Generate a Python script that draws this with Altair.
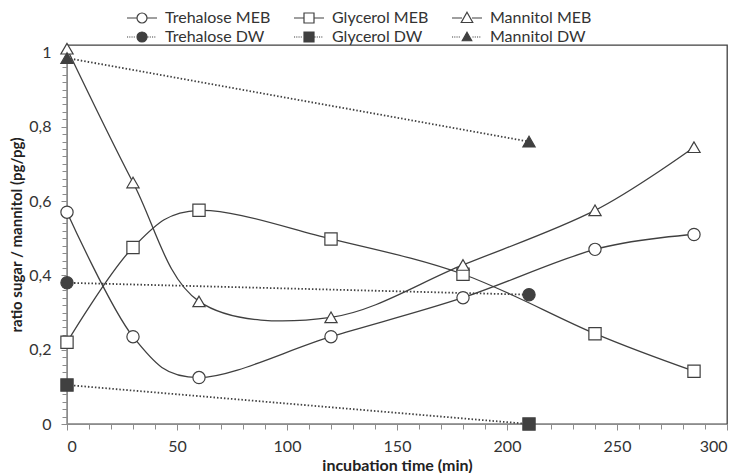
import altair as alt
import pandas as pd

# ---------------- data ----------------
series_names = ["Trehalose MEB", "Glycerol MEB", "Mannitol MEB",
                "Trehalose DW", "Glycerol DW", "Mannitol DW"]

times_meb = [0, 30, 60, 120, 180, 240, 285]
trehalose_meb = [0.57, 0.235, 0.125, 0.235, 0.340, 0.470, 0.510]
glycerol_meb = [0.22, 0.475, 0.575, 0.498, 0.403, 0.243, 0.142]
mannitol_meb = [1.01, 0.65, 0.33, 0.287, 0.428, 0.575, 0.745]

times_dw = [0, 210]
trehalose_dw = [0.38, 0.348]
glycerol_dw = [0.105, 0.0]
mannitol_dw = [0.985, 0.76]

x_ticks = [0, 50, 100, 150, 200, 250, 300]
y_ticks = [0, 0.2, 0.4, 0.6, 0.8, 1.0]

rows = []
for name, vals in zip(series_names[:3], [trehalose_meb, glycerol_meb, mannitol_meb]):
    for t, v in zip(times_meb, vals):
        rows.append({"series": name, "kind": "MEB", "time": t, "value": v})
for name, vals in zip(series_names[3:], [trehalose_dw, glycerol_dw, mannitol_dw]):
    for t, v in zip(times_dw, vals):
        rows.append({"series": name, "kind": "DW", "time": t, "value": v})
df = pd.DataFrame(rows)

# ---------------- styling ----------------
DARK = "#404040"
AXC = "#8c8c8c"
FONT = "Lato"


def dotted(a, b, dot=0.22, step=0.45):
    parts = []
    x = a
    while x + dot <= b + 1e-9:
        parts.append(f"M{x:.2f},0L{x + dot:.2f},0")
        x += step
    return "".join(parts)


solid_l = "M-3,0L-1,0M1,0L3,0"
dot_l = dotted(-3.0, -1.05) + dotted(1.1, 3.0)
circle_p = "M-1,0A1,1 0 1,1 1,0A1,1 0 1,1 -1,0Z"
square_p = "M-1,-1L1,-1L1,1L-1,1Z"
tri_p = "M0,-1.15L1.15,0.9L-1.15,0.9Z"
tri_small = "M0,-0.95L0.95,0.75L-0.95,0.75Z"

legend_shapes = [solid_l + circle_p, solid_l + square_p, solid_l + tri_p,
                 dot_l + circle_p, dot_l + square_p, dot_l + tri_small]
legend_fills = ["white", "white", "white", DARK, DARK, DARK]
plot_shapes = ["circle", "square", "triangle-up", "circle", "square", "triangle-up"]

xs = alt.Scale(domain=[0, 300], nice=False, zero=False)
ys = alt.Scale(domain=[0, 1.02], nice=False, zero=False)

y_label_expr = ("datum.value == 0 ? '0' : datum.value == 1 ? '1' : "
                "replace(format(datum.value, '.1f'), '.', ',')")

x_main = alt.X("time:Q", scale=xs, title="incubation time (min)",
               axis=alt.Axis(values=x_ticks, orient="bottom", grid=False,
                             domainColor=AXC, tickColor=AXC,
                             tickSize=6, labelFontSize=16, labelPadding=8,
                             labelColor="#333", titleFontSize=16,
                             titleFontWeight="bold", titleColor="#222",
                             titlePadding=3, labelFont=FONT, titleFont=FONT))
y_main = alt.Y("value:Q", scale=ys, title="ratio sugar / mannitol  (pg/pg)",
               axis=alt.Axis(values=y_ticks, orient="left", grid=False,
                             labelExpr=y_label_expr,
                             domainColor=AXC, tickColor=AXC,
                             tickSize=6, labelFontSize=16, labelPadding=10,
                             labelColor="#333", titleFontSize=15,
                             titleFontWeight="bold", titleColor="#222",
                             titlePadding=4, labelFont=FONT, titleFont=FONT))

x_none = alt.X("time:Q", scale=xs, axis=None)
y_none = alt.Y("value:Q", scale=ys, axis=None)

base = alt.Chart(df)

meb_lines = base.transform_filter(alt.datum.kind == "MEB").mark_line(
    interpolate="cardinal", color=DARK, strokeWidth=1.3
).encode(x=x_main, y=y_main, detail="series:N")

dw_lines = base.transform_filter(alt.datum.kind == "DW").mark_line(
    color=DARK, strokeWidth=1.8, strokeDash=[1.5, 2]
).encode(x=x_none, y=y_none, detail="series:N")

markers = base.mark_point(filled=True, stroke=DARK, strokeWidth=1.2, size=150,
                          opacity=1).encode(
    x=x_none, y=y_none,
    shape=alt.Shape("series:N", scale=alt.Scale(domain=series_names, range=plot_shapes),
                    legend=None),
    fill=alt.Fill("series:N", scale=alt.Scale(domain=series_names, range=legend_fills),
                  legend=None),
)


def leg():
    return alt.Legend(orient="none", legendX=67, legendY=-35,
                      columns=3, direction="horizontal", gridAlign="each",
                      symbolSize=100, symbolOpacity=1,
                      symbolStrokeColor=DARK, symbolStrokeWidth=1.2,
                      labelOffset=15, labelFontSize=16,
                      labelFont=FONT, labelColor="#333",
                      columnPadding=20, rowPadding=3,
                      padding=0, title=None)


legend_layer = base.mark_point(filled=False, color=DARK, strokeWidth=1.2,
                               opacity=0).encode(
    x=x_none, y=y_none,
    shape=alt.Shape("series:N", scale=alt.Scale(domain=series_names, range=legend_shapes),
                    title=None, legend=leg()),
    fill=alt.Fill("series:N", scale=alt.Scale(domain=series_names, range=legend_fills),
                  title=None, legend=leg()),
    stroke=alt.Stroke("series:N", scale=alt.Scale(domain=series_names, range=[DARK] * 6),
                      title=None, legend=leg()),
)

minor_x = [v for v in range(0, 301, 10)]
minor_y = [round(i * 0.02, 2) for i in range(0, 51)]

minor_axes = base.mark_point(opacity=0).encode(
    x=alt.X("time:Q", scale=xs, title=None,
            axis=alt.Axis(values=minor_x, orient="bottom", labels=False, domain=False,
                          grid=False, tickColor=AXC, tickSize=5, title=None)),
    y=alt.Y("value:Q", scale=ys, title=None,
            axis=alt.Axis(values=minor_y, orient="left", labels=False, domain=False,
                          grid=False, tickColor=AXC, tickSize=5, title=None)),
)

chart = alt.layer(
    minor_axes, meb_lines, dw_lines, markers, legend_layer
).resolve_axis(
    x="independent", y="independent"
).resolve_scale(
    shape="independent", fill="independent", stroke="independent"
).properties(
    width=660, height=379,
    padding={"left": 59, "top": 37, "right": 7, "bottom": 49},
    autosize=alt.AutoSizeParams(type="none"),
    background="white",
).configure_view(
    stroke=DARK, strokeWidth=1.3
)

chart.save("out.html", embed_options={"renderer": "svg", "actions": False})
